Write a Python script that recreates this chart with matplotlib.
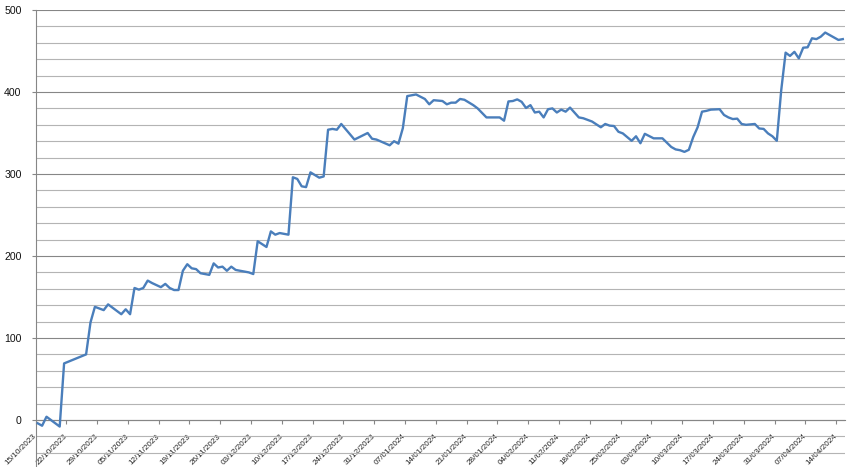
import matplotlib
matplotlib.use("Agg")
import matplotlib.pyplot as plt
import pandas as pd

# DATA
dates = ["15/10/2023", "16/10/2023", "17/10/2023", "20/10/2023", "21/10/2023", "26/10/2023",
         "27/10/2023", "28/10/2023", "30/10/2023", "31/10/2023", "03/11/2023", "04/11/2023",
         "05/11/2023", "06/11/2023", "07/11/2023", "08/11/2023", "09/11/2023", "10/11/2023",
         "12/11/2023", "13/11/2023", "14/11/2023", "15/11/2023", "16/11/2023", "17/11/2023",
         "18/11/2023", "19/11/2023", "20/11/2023", "21/11/2023", "23/11/2023", "24/11/2023",
         "25/11/2023", "26/11/2023", "27/11/2023", "28/11/2023", "29/11/2023", "02/12/2023",
         "03/12/2023", "04/12/2023", "06/12/2023", "07/12/2023", "08/12/2023", "09/12/2023",
         "11/12/2023", "12/12/2023", "13/12/2023", "14/12/2023", "15/12/2023", "16/12/2023",
         "18/12/2023", "19/12/2023", "20/12/2023", "21/12/2023", "22/12/2023", "23/12/2023",
         "26/12/2023", "29/12/2023", "30/12/2023", "31/12/2023", "03/01/2024", "04/01/2024",
         "05/01/2024", "06/01/2024", "07/01/2024", "09/01/2024", "11/01/2024", "12/01/2024",
         "13/01/2024", "15/01/2024", "16/01/2024", "17/01/2024", "18/01/2024", "19/01/2024",
         "20/01/2024", "22/01/2024", "23/01/2024", "25/01/2024", "28/01/2024", "29/01/2024",
         "30/01/2024", "31/01/2024", "01/02/2024", "02/02/2024", "03/02/2024", "04/02/2024",
         "05/02/2024", "06/02/2024", "07/02/2024", "08/02/2024", "09/02/2024", "10/02/2024",
         "11/02/2024", "12/02/2024", "13/02/2024", "15/02/2024", "16/02/2024", "17/02/2024",
         "18/02/2024", "20/02/2024", "21/02/2024", "22/02/2024", "23/02/2024", "24/02/2024",
         "25/02/2024", "27/02/2024", "28/02/2024", "29/02/2024", "01/03/2024", "03/03/2024",
         "05/03/2024", "07/03/2024", "08/03/2024", "09/03/2024", "10/03/2024", "11/03/2024",
         "12/03/2024", "13/03/2024", "14/03/2024", "15/03/2024", "16/03/2024", "18/03/2024",
         "19/03/2024", "20/03/2024", "21/03/2024", "22/03/2024", "23/03/2024", "24/03/2024",
         "26/03/2024", "27/03/2024", "28/03/2024", "29/03/2024", "30/03/2024", "31/03/2024",
         "01/04/2024", "02/04/2024", "03/04/2024", "04/04/2024", "05/04/2024", "06/04/2024",
         "07/04/2024", "08/04/2024", "09/04/2024", "10/04/2024", "11/04/2024", "12/04/2024",
         "14/04/2024", "15/04/2024"]

values = [-4, -7, 4, -8, 69, 80,
          119, 138, 134, 141, 129, 135,
          129, 161, 159, 161, 170, 167,
          162, 166, 161, 158.5, 158.5, 182,
          190, 185, 184, 179, 177, 191,
          186, 187, 182, 187, 183, 180,
          178, 218, 211, 230, 226, 228,
          226, 296, 294, 285, 284, 302,
          295.5, 297, 354, 355, 354, 361,
          342, 350, 343, 342, 335, 340,
          337, 356, 395, 397, 391.5, 385,
          390, 389, 385, 387, 387, 391.5,
          390.5, 384, 380, 369, 369, 365,
          388.5, 389, 391, 388, 380.5, 384,
          375, 376, 369, 379, 380, 375,
          378.5, 376, 381, 369, 368, 366,
          364, 357, 361, 359, 358.5, 351.5,
          349.5, 340.5, 346, 337.5, 349, 343.5,
          343.5, 333, 330, 329, 327, 329.5,
          345, 357, 376, 377, 378.5, 379,
          372, 369, 367, 367.5, 361, 360,
          361, 355.5, 355, 349.5, 346, 340.5,
          402, 448, 444, 449, 441, 454,
          454.5, 465.5, 464.5, 467.5, 472.5, 469.5,
          463.5, 464.5]

tick_dates = pd.date_range("2023-10-15", "2024-04-14", freq="7D")
tick_labels = [d.strftime("%d/%m/%Y") for d in tick_dates]

# points sit in the middle of their day, like the Excel date axis
x = pd.to_datetime(dates, format="%d/%m/%Y") + pd.Timedelta(hours=12)

plt.rcParams['font.family'] = ['Liberation Sans', 'DejaVu Sans']

fig = plt.figure(figsize=(8.6, 4.67), dpi=100)
ax = fig.add_axes([35.5/860, 1 - 469.2/467, (845 - 35.5)/860, (469.2 - 10)/467])

ax.plot(x, values, color="#4a7ebb", linewidth=1.7, zorder=3)

ax.set_xlim(pd.Timestamp("2023-10-15"), pd.Timestamp("2024-04-16"))
ax.set_ylim(-60, 500)

# Gridlines
ax.set_yticks(range(0, 501, 100))
ax.set_yticks(range(-60, 501, 20), minor=True)
ax.yaxis.grid(True, which="minor", color="#b4b4b4", linewidth=0.8)
ax.yaxis.grid(True, which="major", color="#868686", linewidth=0.8)
ax.set_axisbelow(True)

# Axes
ax.spines['top'].set_visible(False)
ax.spines['right'].set_visible(False)
ax.spines['left'].set_color("#868686")
ax.spines['bottom'].set_color("#868686")
ax.spines['bottom'].set_position(('data', 0))
ax.spines['left'].set_linewidth(0.8)
ax.spines['bottom'].set_linewidth(0.8)

ax.set_xticks(tick_dates)
ax.set_xticklabels(tick_labels, rotation=45, ha='right', va='center',
                   rotation_mode='anchor', fontsize=5.9, color="#222222")
ax.tick_params(axis='x', length=3, color="#868686", pad=8)
ax.tick_params(axis='y', which='major', length=3, color="#868686", pad=7,
               labelsize=7.6, labelcolor="#111111")
ax.tick_params(axis='y', which='minor', length=0)

plt.savefig("out.png", dpi=100)
